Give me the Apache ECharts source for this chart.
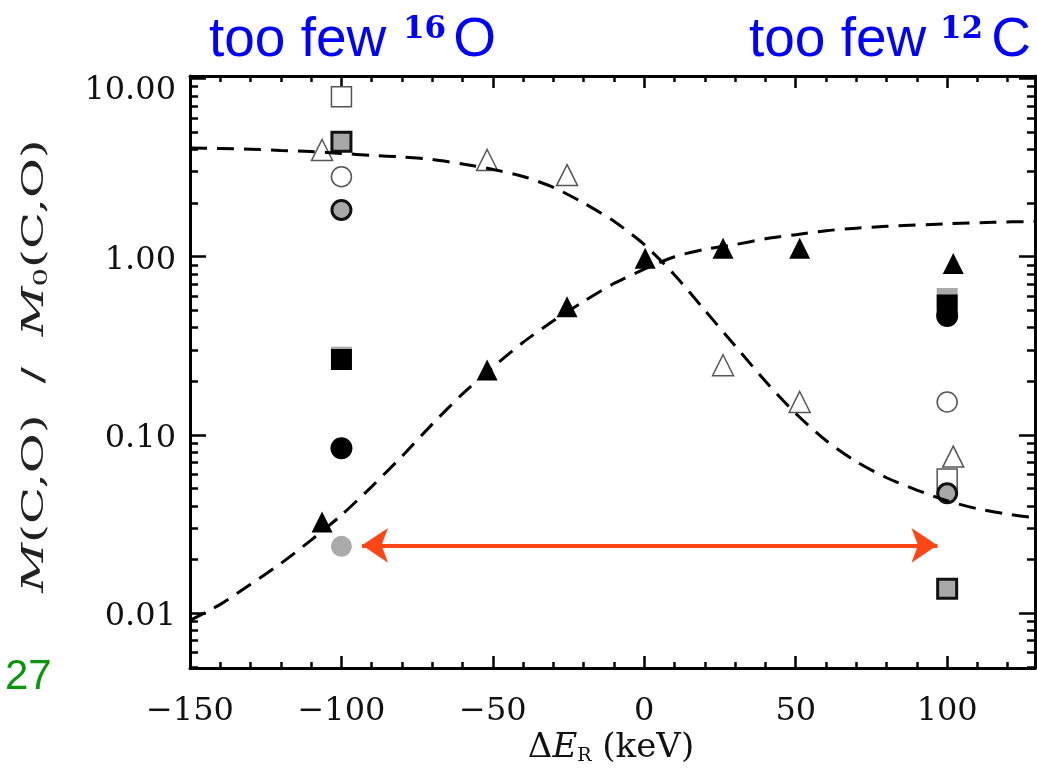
<!DOCTYPE html>
<html>
<head>
<meta charset="utf-8">
<script src="https://cdn.jsdelivr.net/npm/echarts@6/dist/echarts.min.js"></script>
<style>
  html, body { margin: 0; padding: 0; background: #fff; }
  #chart { width: 1037px; height: 773px; }
</style>
</head>
<body>
<div id="chart"></div>
<script>
// axis ticks
const xMajorTicks = [-150, -100, -50, 0, 50, 100];
const xMinorTicks = [-140, -130, -120, -110, -90, -80, -70, -60, -40, -30, -20, -10,
  10, 20, 30, 40, 60, 70, 80, 90, 110, 120];
const yMajorTicks = [0.01, 0.1, 1, 10];
const yMinorTicks = [0.005, 0.006, 0.007, 0.008, 0.009,
  0.02, 0.03, 0.04, 0.05, 0.06, 0.07, 0.08, 0.09,
  0.2, 0.3, 0.4, 0.5, 0.6, 0.7, 0.8, 0.9,
  2, 3, 4, 5, 6, 7, 8, 9];

// dashed curves
const curveAX = [-150, -140, -130, -120, -110, -100, -90, -80, -70, -60, -50, -40, -30, -20, -10,
  0, 10, 20, 30, 40, 50, 60, 70, 80, 90, 100, 110, 120, 129];
const curveAY = [4.07, 4.05, 4.01, 3.95, 3.89, 3.80, 3.70, 3.63, 3.51, 3.31, 3.09, 2.82, 2.45, 2.0, 1.58,
  1.17, 0.79, 0.50, 0.316, 0.20, 0.132, 0.093, 0.0708, 0.0575, 0.049, 0.0427, 0.0385, 0.0359, 0.0343];
const curveBX = [-150, -140, -130, -120, -110, -100, -90, -80, -70, -60, -50, -40, -30, -20, -10,
  0, 10, 20, 30, 40, 50, 60, 70, 80, 100, 115, 129];
const curveBY = [0.0091, 0.0112, 0.0145, 0.019, 0.0257, 0.0355, 0.0513, 0.0759, 0.115, 0.17, 0.24, 0.331, 0.437, 0.562, 0.708,
  0.851, 1.0, 1.10, 1.17, 1.26, 1.33, 1.40, 1.445, 1.48, 1.53, 1.56, 1.578];

// markers
const blackTriX = [-106.4, -51.9, -25.5, 0.3, 26, 51.3, 102];
const blackTriY = [0.0325, 0.231, 0.524, 0.98, 1.115, 1.115, 0.916];
const whiteTriX = [-106.4, -51.9, -25.5, 26, 51.3, 102];
const whiteTriY = [3.97, 3.49, 2.87, 0.246, 0.153, 0.0756];
const whiteSqX = [-100, 100];
const whiteSqY = [7.9, 0.0566];
const graySqX = [-100, 100];
const graySqY = [4.42, 0.0137];
const whiteCircX = [-100, 100];
const whiteCircY = [2.81, 0.153];
const grayCircX = [-100, 100];
const grayCircY = [1.83, 0.047];
const lightSqX = [-100, 100];
const lightSqY = [0.273, 0.583];
const blackSqX = [-100, 100];
const blackSqY = [0.265, 0.536];
const blackCircX = [-100, 100];
const blackCircY = [0.0842, 0.465];
const lightCircX = [-100];
const lightCircY = [0.0237];

// red double arrow
const arrowX = [-93.2, 96.8];
const arrowY = 0.024;

const serif = 'DejaVu Serif';
const X_MIN = -150, X_MAX = 129;
const Y_MIN = 0.00492, Y_MAX = 10.33;

function pairs(xs, ys) {
  return xs.map((x, i) => [x, ys[i]]);
}

function xAxisDef(position, major) {
  return {
    type: 'value', min: X_MIN, max: X_MAX, position: position,
    axisLine: { show: major, onZero: false, lineStyle: { color: '#000', width: 3 } },
    axisTick: {
      show: true, inside: true, length: major ? 12 : 6,
      customValues: major ? xMajorTicks : xMinorTicks,
      lineStyle: { color: '#000', width: 2.5 }
    },
    axisLabel: {
      show: major && position === 'bottom',
      customValues: xMajorTicks,
      formatter: v => (v < 0 ? '\u2212' + Math.abs(v) : String(v)),
      fontFamily: serif, fontSize: 32, color: '#111', margin: 28
    },
    splitLine: { show: false }
  };
}

function yAxisDef(position, major) {
  return {
    type: 'log', logBase: 10, min: Y_MIN, max: Y_MAX, position: position,
    axisLine: { show: major, onZero: false, lineStyle: { color: '#000', width: 3 } },
    axisTick: {
      show: true, inside: true, length: major ? 16 : 8,
      customValues: major ? yMajorTicks : yMinorTicks,
      lineStyle: { color: '#000', width: 2.5 }
    },
    axisLabel: {
      show: major && position === 'left',
      customValues: yMajorTicks,
      // the top label sits a little below its tick, as in the original
      formatter: v => (v >= 10 ? '{t|' + Number(v).toFixed(2) + '}' : Number(v).toFixed(2)),
      rich: { t: { fontFamily: serif, fontSize: 32, color: '#111', padding: [16, 0, 0, 0] } },
      fontFamily: serif, fontSize: 32, color: '#111', margin: 14,
      padding: [8, 0, 0, 0]
    },
    splitLine: { show: false },
    minorTick: { show: false }
  };
}

function scatter(name, xs, ys, symbol, size, style) {
  return {
    name: name, type: 'scatter', xAxisIndex: 0, yAxisIndex: 0,
    symbol: symbol, symbolSize: size,
    itemStyle: Object.assign({ opacity: 1 }, style),
    data: pairs(xs, ys)
  };
}

const chart = echarts.init(document.getElementById('chart'), null, { renderer: 'canvas' });

const option = {
  animation: false,
  backgroundColor: '#fff',
  grid: { left: 190, right: 2, top: 76, bottom: 105, outerBoundsMode: 'none', containLabel: false },
  xAxis: [
    xAxisDef('bottom', true), xAxisDef('bottom', false),
    xAxisDef('top', true), xAxisDef('top', false)
  ],
  yAxis: [
    yAxisDef('left', true), yAxisDef('left', false),
    yAxisDef('right', true), yAxisDef('right', false)
  ],
  series: [
    {
      type: 'line', xAxisIndex: 0, yAxisIndex: 0, data: pairs(curveAX, curveAY),
      showSymbol: false, smooth: 0.25, clip: true,
      lineStyle: { color: '#000', width: 3, type: [17, 10] }
    },
    {
      type: 'line', xAxisIndex: 0, yAxisIndex: 0, data: pairs(curveBX, curveBY),
      showSymbol: false, smooth: 0.25, clip: true,
      lineStyle: { color: '#000', width: 3, type: [17, 10] }
    },
    {
      type: 'line', xAxisIndex: 0, yAxisIndex: 0, data: [],
      markLine: {
        silent: true, animation: false,
        symbol: ['arrow', 'arrow'], symbolSize: 26,
        label: { show: false },
        lineStyle: { color: '#ff4616', width: 4, type: 'solid' },
        data: [[{ coord: [arrowX[0], arrowY] }, { coord: [arrowX[1], arrowY] }]]
      }
    },
    scatter('lightSq', lightSqX, lightSqY, 'rect', 21, { color: '#aaaaaa' }),
    scatter('blackSq', blackSqX, blackSqY, 'rect', 21, { color: '#000' }),
    scatter('blackCirc', blackCircX, blackCircY, 'circle', 22, { color: '#000' }),
    scatter('whiteSq', whiteSqX, whiteSqY, 'rect', 20, { color: '#fff', borderColor: '#555', borderWidth: 1.5 }),
    scatter('whiteTri', whiteTriX, whiteTriY, 'triangle', 21, { color: '#fff', borderColor: '#555', borderWidth: 1.5 }),
    scatter('whiteCirc', whiteCircX, whiteCircY, 'circle', 20, { color: '#fff', borderColor: '#555', borderWidth: 1.5 }),
    scatter('grayCirc', grayCircX, grayCircY, 'circle', 19, { color: '#a8a8a8', borderColor: '#111', borderWidth: 3 }),
    scatter('graySq', graySqX, graySqY, 'rect', 19, { color: '#a8a8a8', borderColor: '#111', borderWidth: 3 }),
    scatter('blackTri', blackTriX, blackTriY, 'triangle', 21, { color: '#000' }),
    scatter('lightCirc', lightCircX, lightCircY, 'circle', 21, { color: '#aaaaaa' })
  ],
  graphic: [
    { type: 'text', x: 209, y: 41, style: { text: 'too few', fontFamily: 'Liberation Sans', fontSize: 55, fill: '#0000ff', align: 'left', verticalAlign: 'middle' } },
    { type: 'text', x: 403, y: 30, style: { text: '16', fontFamily: serif, fontWeight: 'bold', fontSize: 31, fill: '#0000ff', align: 'left', verticalAlign: 'middle' } },
    { type: 'text', x: 496, y: 41, style: { text: 'O', fontFamily: 'Liberation Sans', fontSize: 55, fill: '#0000ff', align: 'right', verticalAlign: 'middle' } },
    { type: 'text', x: 749, y: 41, style: { text: 'too few', fontFamily: 'Liberation Sans', fontSize: 55, fill: '#0000ff', align: 'left', verticalAlign: 'middle' } },
    { type: 'text', x: 940, y: 30, style: { text: '12', fontFamily: serif, fontWeight: 'bold', fontSize: 31, fill: '#0000ff', align: 'left', verticalAlign: 'middle' } },
    { type: 'text', x: 1031, y: 41, style: { text: 'C', fontFamily: 'Liberation Sans', fontSize: 55, fill: '#0000ff', align: 'right', verticalAlign: 'middle' } },
    { type: 'text', x: 5, y: 677, style: { text: '27', fontFamily: 'Liberation Sans', fontSize: 42, fill: '#0a960a', align: 'left', verticalAlign: 'middle' } },
    {
      type: 'text', x: 35, y: 366, rotation: Math.PI / 2, scaleX: 1.62,
      style: {
        text: '{i|M}(C,O)  /  {i|M}{s|0}(C,O)',
        fontFamily: serif, fontSize: 30, fill: '#222', align: 'center', verticalAlign: 'middle',
        rich: {
          i: { fontFamily: serif, fontSize: 30, fontStyle: 'italic', fill: '#222' },
          s: { fontFamily: serif, fontSize: 18, fill: '#222', padding: [14, 0, 0, 0] }
        }
      }
    },
    {
      type: 'text', x: 611, y: 748,
      style: {
        text: '\u0394{i|E}{s|R} (keV)',
        fontFamily: serif, fontSize: 34, fill: '#111', align: 'center', verticalAlign: 'middle',
        rich: {
          i: { fontFamily: serif, fontSize: 34, fontStyle: 'italic', fill: '#111' },
          s: { fontFamily: serif, fontSize: 19, fill: '#111', padding: [17, 0, 0, 0] }
        }
      }
    }
  ]
};

chart.setOption(option);
</script>
</body>
</html>
